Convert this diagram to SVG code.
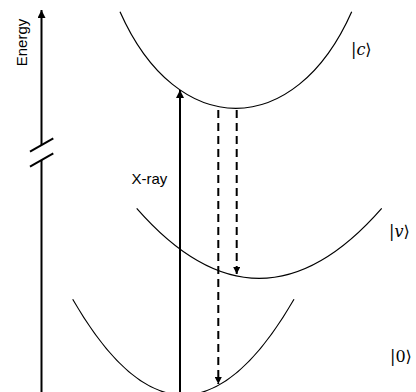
<svg xmlns="http://www.w3.org/2000/svg" width="416" height="392" viewBox="0 0 416 392">
<style>
.curve{fill:none;stroke:#000;stroke-width:1.2}
.axis{fill:none;stroke:#000;stroke-width:2}
.dash{fill:none;stroke:#000;stroke-width:2;stroke-dasharray:8 5}
.lbl{font-family:"Liberation Sans",Arial,sans-serif;font-size:15px;fill:#000}
.ket{font-family:"DejaVu Serif","Liberation Serif",serif;font-size:16px;fill:#000}
.ket .it{font-style:italic}
</style>
<defs>
<marker id="ah" viewBox="0 0 10 10" refX="10" refY="5" markerWidth="4" markerHeight="4" orient="auto" markerUnits="strokeWidth">
<path d="M0,0 L10,5 L0,10 Z" fill="#000"/>
</marker>
<marker id="ahs" viewBox="0 0 10 10" refX="10" refY="5" markerWidth="3.5" markerHeight="3.5" orient="auto" markerUnits="strokeWidth">
<path d="M0,0 L10,5 L0,10 Z" fill="#000"/>
</marker>
</defs>
<g id="energy-axis">
<line class="axis" x1="41.5" y1="392" x2="41.5" y2="160"/>
<line class="axis" x1="41.5" y1="145" x2="41.5" y2="10" marker-end="url(#ah)"/>
<line class="axis" x1="30" y1="151.7" x2="53.3" y2="138.3"/>
<line class="axis" x1="30" y1="166.7" x2="53.3" y2="153.3"/>
<text class="lbl" transform="translate(26.5,42.5) rotate(-90)" text-anchor="middle">Energy</text>
</g>
<g id="state-c">
<path class="curve" d="M120,11.7 C177,140.5 294.7,140.5 351.7,11.7"/>
<text class="ket" x="351" y="55">|<tspan class="it">c</tspan>⟩</text>
</g>
<g id="state-v">
<path class="curve" d="M136.7,208.3 Q259.2,348.3 381.7,208.3"/>
<text class="ket" x="389" y="237">|<tspan class="it">v</tspan>⟩</text>
</g>
<g id="state-0">
<path class="curve" d="M72.7,299.3 Q183.3,490.7 294,299.3"/>
<text class="ket" x="390" y="362">|0⟩</text>
</g>
<g id="connectors">
<line class="axis" x1="180" y1="392" x2="180" y2="90" marker-end="url(#ah)"/>
<text class="lbl" x="131.5" y="184">X-ray</text>
<line class="dash" x1="218.3" y1="110" x2="218.3" y2="384" marker-end="url(#ahs)"/>
<line class="dash" x1="236.7" y1="110" x2="236.7" y2="274" marker-end="url(#ahs)"/>
</g>
</svg>
